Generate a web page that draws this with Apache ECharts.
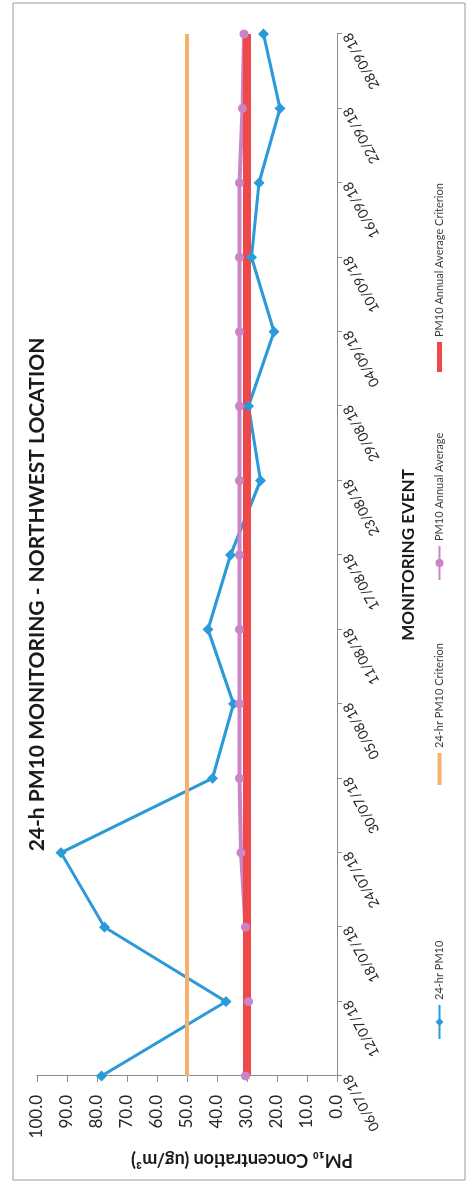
<!DOCTYPE html>
<html>
<head>
<meta charset="utf-8">
<script src="https://cdn.jsdelivr.net/npm/echarts@6/dist/echarts.min.js"></script>
<style>
  html, body { margin: 0; padding: 0; background: #ffffff; overflow: hidden; }
  #wrap { width: 467px; height: 1189px; position: relative; overflow: hidden; }
  #chart {
    position: absolute; left: 0; top: 0;
    width: 1189px; height: 467px;
    transform-origin: 0 0;
    transform: translate(0px, 1189px) rotate(-90deg);
  }
</style>
</head>
<body>
<div id="wrap"><div id="chart"></div></div>
<script>
// ---- data ----
const dates = ['06/07/18','12/07/18','18/07/18','24/07/18','30/07/18','05/08/18','11/08/18','17/08/18','23/08/18','29/08/18','04/09/18','10/09/18','16/09/18','22/09/18','28/09/18'];
const pm10_24h = [78.5, 37, 77.5, 92, 41.5, 34.5, 43, 35.5, 25.5, 29.5, 21, 28.5, 26, 19, 24.5];
const criterion_24h = [50, 50, 50, 50, 50, 50, 50, 50, 50, 50, 50, 50, 50, 50, 50];
const annualAverage = [30.5, 29.5, 30.5, 32, 32.5, 32.5, 32.5, 32.5, 32.5, 32.5, 32.5, 32.5, 32.5, 31.5, 31];
const annualCriterion = [30, 30, 30, 30, 30, 30, 30, 30, 30, 30, 30, 30, 30, 30, 30];
const seriesNames = ['24-hr PM10', '24-hr PM10 Criterion', 'PM10 Annual Average', 'PM10 Annual Average Criterion'];
const valueTicks = { min: 0, max: 100, interval: 10 };
const valueAxisTitle = 'PM\u2081\u2080 Concentration (ug/m\u00B3)';

const FONT = 'Lato, "Open Sans", sans-serif';
const chart = echarts.init(document.getElementById('chart'), null, { renderer: 'canvas', width: 1189, height: 467 });

function legendAt(name, left, extra) {
  return Object.assign({
    data: [name], left: left, top: 429, orient: 'horizontal',
    itemWidth: 34, itemHeight: 10, itemGap: 4,
    textStyle: { fontFamily: FONT, fontSize: 11, color: '#404040' }
  }, extra || {});
}

chart.setOption({
  backgroundColor: '#ffffff',
  animation: false,
  title: {
    text: '24-h PM10 MONITORING - NORTHWEST LOCATION',
    left: 'center', top: 22,
    textStyle: { fontFamily: FONT, fontSize: 21, fontWeight: 'bold', color: '#1a1a1a' }
  },
  legend: [
    legendAt(seriesNames[0], 144),
    legendAt(seriesNames[1], 399, { icon: 'rect', itemWidth: 32, itemHeight: 4 }),
    legendAt(seriesNames[2], 603),
    legendAt(seriesNames[3], 812, { icon: 'rect', itemWidth: 30, itemHeight: 5 })
  ],
  grid: { left: 113, right: 34, top: 37, height: 300 },
  xAxis: {
    type: 'category', data: dates, boundaryGap: false,
    name: 'MONITORING EVENT', nameLocation: 'middle', nameGap: 63,
    nameTextStyle: { fontFamily: FONT, fontSize: 17, fontWeight: 'bold', color: '#1a1a1a' },
    axisLine: { lineStyle: { color: '#8c8c8c', width: 1 } },
    axisTick: { alignWithLabel: true, length: 5, lineStyle: { color: '#8c8c8c' } },
    axisLabel: { rotate: 28, margin: 10, fontFamily: FONT, fontSize: 14, color: '#262626', interval: 0 }
  },
  yAxis: {
    type: 'value', min: valueTicks.min, max: valueTicks.max, interval: valueTicks.interval,
    axisLine: { show: true, lineStyle: { color: '#8c8c8c', width: 1 } },
    axisTick: { show: true, length: 6, lineStyle: { color: '#8c8c8c' } },
    splitLine: { show: false },
    axisLabel: { margin: 19, fontFamily: FONT, fontSize: 17, color: '#262626', formatter: v => v.toFixed(1) }
  },
  graphic: [
    {
      type: 'rect', shape: { x: 9, y: 13, width: 1177, height: 452 },
      style: { fill: 'none', stroke: '#9a9a9a', lineWidth: 1 }, silent: true
    },
    {
      type: 'text', x: 29, y: 242, rotation: Math.PI / 2,
      style: {
        text: valueAxisTitle, fontFamily: FONT, fontSize: 18, fontWeight: 'bold',
        fill: '#1a1a1a', align: 'center', verticalAlign: 'middle'
      }
    }
  ],
  series: [
    {
      name: seriesNames[0], type: 'line', data: pm10_24h,
      color: '#2b9ad8', symbol: 'diamond', symbolSize: 11,
      lineStyle: { width: 3, color: '#2b9ad8' }, itemStyle: { color: '#2b9ad8' }
    },
    {
      name: seriesNames[1], type: 'line', data: criterion_24h,
      color: '#f7b16c', symbol: 'none', showSymbol: false,
      lineStyle: { width: 4, color: '#f7b16c' }, itemStyle: { color: '#f7b16c' }
    },
    {
      name: seriesNames[2], type: 'line', data: annualAverage,
      color: '#c985c6', symbol: 'circle', symbolSize: 9,
      lineStyle: { width: 4, color: '#c985c6' }, itemStyle: { color: '#c985c6' }
    },
    {
      name: seriesNames[3], type: 'line', data: annualCriterion,
      color: '#ee4848', symbol: 'none', showSymbol: false,
      lineStyle: { width: 8, color: '#ee4848' }, itemStyle: { color: '#ee4848' }
    }
  ]
});
</script>
</body>
</html>
